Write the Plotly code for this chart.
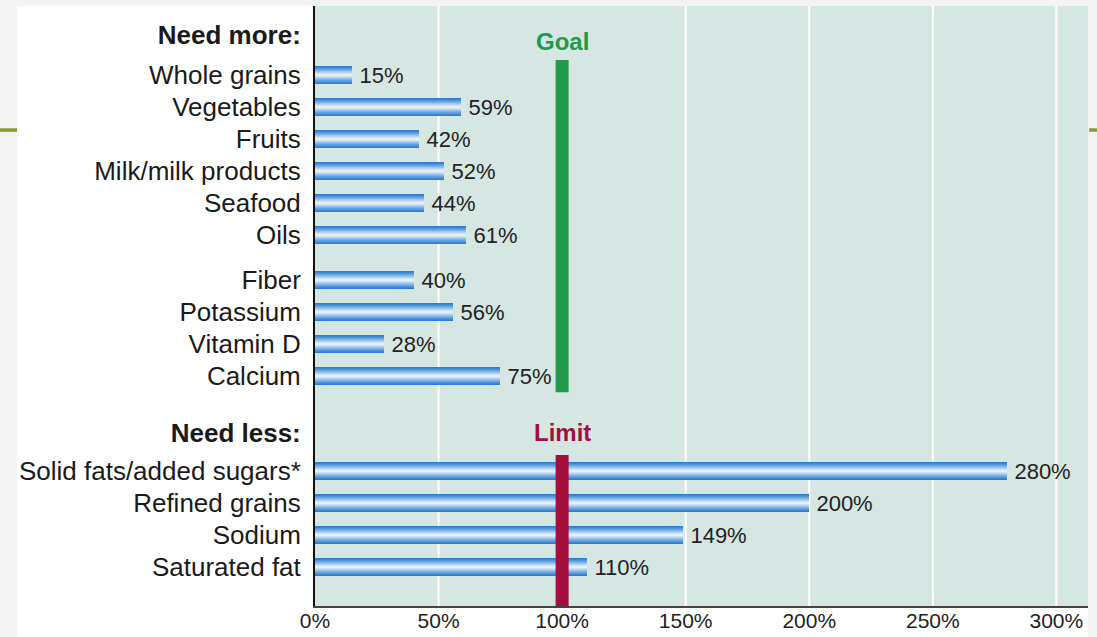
import plotly.graph_objects as go

# ---------------- data ----------------
more_foods = ["Whole grains", "Vegetables", "Fruits", "Milk/milk products", "Seafood", "Oils"]
more_foods_vals = [15, 59, 42, 52, 44, 61]
more_nutrients = ["Fiber", "Potassium", "Vitamin D", "Calcium"]
more_nutrients_vals = [40, 56, 28, 75]
less_items = ["Solid fats/added sugars*", "Refined grains", "Sodium", "Saturated fat"]
less_vals = [280, 200, 149, 110]
header_more = "Need more:"
header_less = "Need less:"
goal_label = "Goal"
limit_label = "Limit"
GOAL = 100
x_ticks = [0, 50, 100, 150, 200, 250, 300]
x_ticktext = [f"{t}%" for t in x_ticks]
grid_vals = [50, 150, 200, 250, 300]

# ---------------- layout of rows (row units) ----------------
group_starts = [0.0, 6.41, 12.375]
groups = [(more_foods, more_foods_vals), (more_nutrients, more_nutrients_vals), (less_items, less_vals)]
cats, vals, ypos = [], [], []
for start, (c, v) in zip(group_starts, groups):
    for i, (ci, vi) in enumerate(zip(c, v)):
        cats.append(ci)
        vals.append(vi)
        ypos.append(start + i)

head_more_y = -1.25
head_less_y = 11.19
y_top, y_bot = -2.156, 16.59
x_max = 312.8

FONT = "Liberation Sans, Arial, Helvetica, sans-serif"

fig = go.Figure()

# stacked overlays of decreasing thickness give the cylindrical gradient look
layers = [
    (0.56, "#2c7ed1"),
    (0.50, "#3d88d6"),
    (0.44, "#5096db"),
    (0.38, "#67a5e1"),
    (0.32, "#80b4e7"),
    (0.26, "#9ac4ec"),
    (0.20, "#b4d4f1"),
    (0.14, "#cde2f6"),
    (0.08, "#e4effa"),
]
for k, (w, col) in enumerate(layers):
    fig.add_trace(go.Bar(
        x=vals, y=ypos, orientation="h",
        width=[w] * len(vals),
        marker=dict(color=col, line=dict(width=0)),
        text=[f"\u2009{v}%" for v in vals] if k == 0 else None,
        textposition="outside" if k == 0 else "none",
        textfont=dict(family=FONT, size=22, color="#222222"),
        constraintext="none",
        cliponaxis=False,
        hoverinfo="skip",
        showlegend=False,
    ))

shapes = []
# slide background white card
shapes.append(dict(type="rect", xref="paper", yref="paper", x0=-0.3855, x1=1.0, y0=-0.0517, y1=1.0,
                   fillcolor="white", line=dict(width=0), layer="below"))
# plot background
shapes.append(dict(type="rect", xref="x domain", yref="y domain", x0=0, x1=1, y0=0, y1=1,
                   fillcolor="#d5e6e3", line=dict(width=0), layer="below"))
# gridlines
for g in grid_vals:
    shapes.append(dict(type="line", xref="x", yref="y domain", x0=g, x1=g, y0=0, y1=1,
                       line=dict(color="white", width=2), layer="below"))
# goal bar
bar_half = 2.63
shapes.append(dict(type="rect", xref="x", yref="y", x0=GOAL - bar_half, x1=GOAL + bar_half,
                   y0=ypos[0] - 0.47, y1=ypos[len(more_foods) + len(more_nutrients) - 1] + 0.5,
                   fillcolor="#23994b", line=dict(width=0), layer="above"))
# limit bar
shapes.append(dict(type="rect", xref="x", yref="y", x0=GOAL - bar_half, x1=GOAL + bar_half,
                   y0=ypos[len(more_foods) + len(more_nutrients)] - 0.5, y1=y_bot,
                   fillcolor="#a3103f", line=dict(width=0), layer="above"))
# decorative olive lines of slide template
shapes.append(dict(type="line", xref="paper", yref="paper", x0=-0.4075, x1=-0.3855, y0=0.7933, y1=0.7933,
                   line=dict(color="#8a9a28", width=3.5), layer="above"))
shapes.append(dict(type="line", xref="paper", yref="paper", x0=1.0015, x1=1.0116, y0=0.7933, y1=0.7933,
                   line=dict(color="#8a9a28", width=3.5), layer="above"))

annotations = [
    dict(x=GOAL, y=-1.06, xref="x", yref="y", text=f"<b>{goal_label}</b>", showarrow=False,
         font=dict(family=FONT, size=24, color="#23994b")),
    dict(x=GOAL, y=11.16, xref="x", yref="y", text=f"<b>{limit_label}</b>", showarrow=False,
         font=dict(family=FONT, size=24, color="#a3103f")),
]

tickvals = [head_more_y] + ypos[:10] + [head_less_y] + ypos[10:]
ticktext = [f"<b>{header_more}</b>"] + cats[:10] + [f"<b>{header_less}</b>"] + cats[10:]

fig.update_layout(
    width=1097, height=637,
    margin=dict(l=315, r=9, t=6, b=31, pad=0, autoexpand=False),
    paper_bgcolor="#f3f3f3",
    plot_bgcolor="rgba(0,0,0,0)",
    barmode="overlay",
    bargap=0,
    shapes=shapes,
    annotations=annotations,
    font=dict(family=FONT, color="#1a1a1a"),
    xaxis=dict(
        range=[0, x_max], tickvals=x_ticks, ticktext=x_ticktext, automargin=False,
        showgrid=False, zeroline=False, showline=True, linecolor="#444444", linewidth=2,
        ticks="", ticklabelstandoff=-5,
        tickfont=dict(family=FONT, size=21, color="#222222"), fixedrange=True,
    ),
    yaxis=dict(
        range=[y_bot, y_top], tickvals=tickvals, ticktext=ticktext, automargin=False,
        showgrid=False, zeroline=False, showline=True, linecolor="#111111", linewidth=2,
        ticks="", ticklabelstandoff=7,
        tickfont=dict(family=FONT, size=26, color="#1a1a1a"), fixedrange=True,
    ),
)

fig.write_html("out.html")
